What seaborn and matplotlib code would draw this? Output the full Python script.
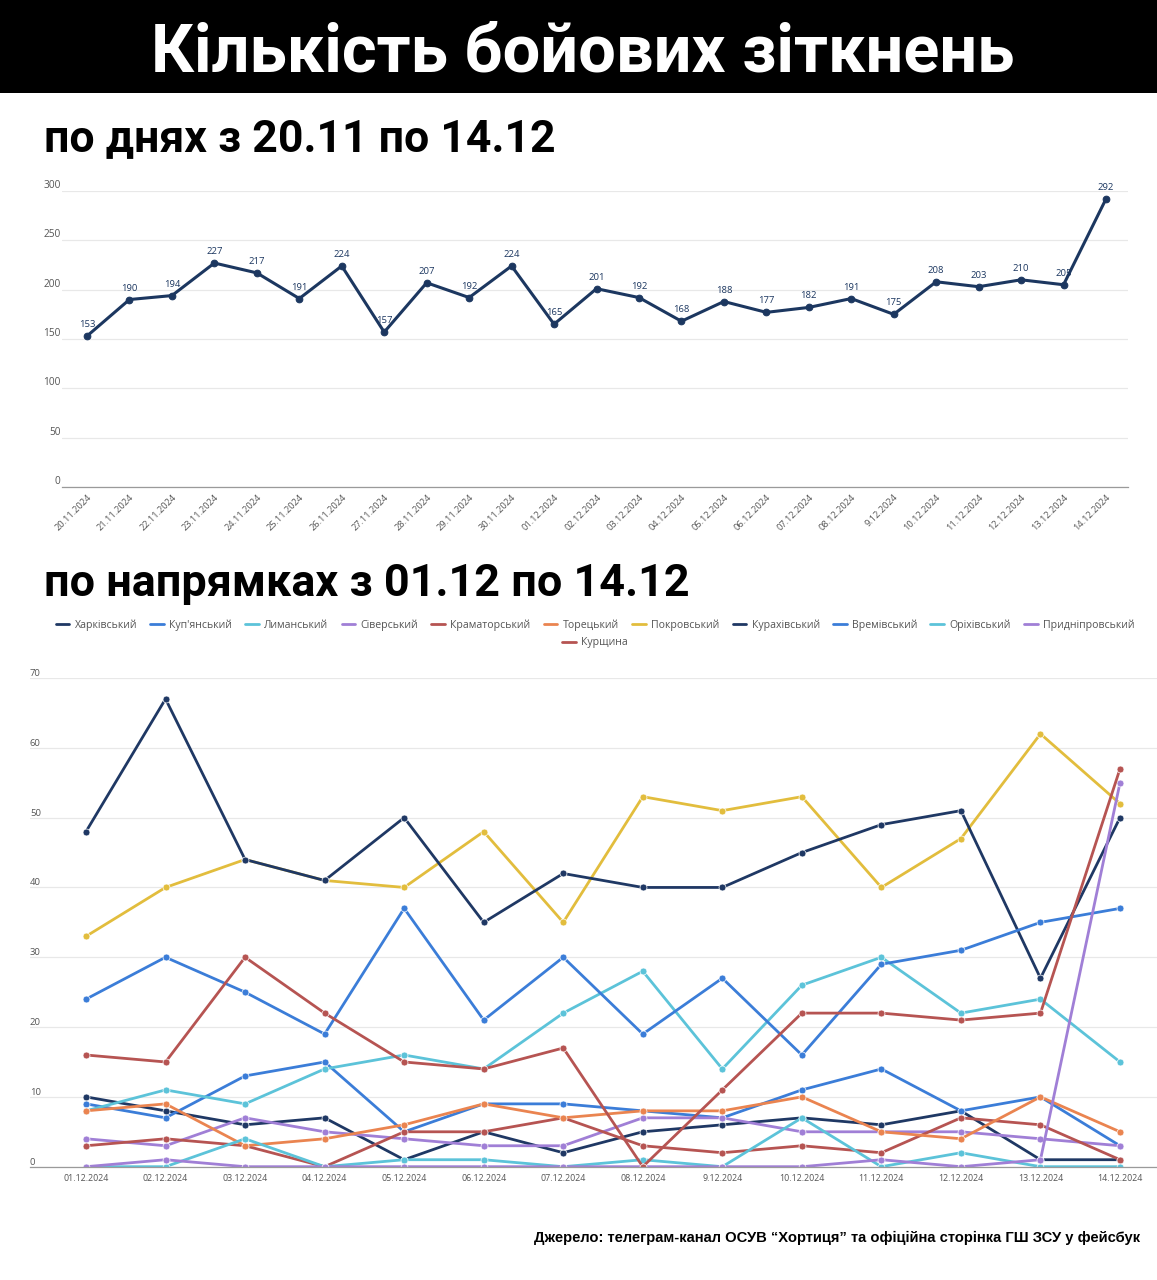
import pandas as pd
import seaborn as sns
import matplotlib.pyplot as plt
from matplotlib import font_manager
from matplotlib.lines import Line2D
from matplotlib.patches import Rectangle

# ---- data: daily totals ----
daily_dates = ["20.11.2024", "21.11.2024", "22.11.2024", "23.11.2024", "24.11.2024",
               "25.11.2024", "26.11.2024", "27.11.2024", "28.11.2024", "29.11.2024",
               "30.11.2024", "01.12.2024", "02.12.2024", "03.12.2024", "04.12.2024",
               "05.12.2024", "06.12.2024", "07.12.2024", "08.12.2024", "9.12.2024",
               "10.12.2024", "11.12.2024", "12.12.2024", "13.12.2024", "14.12.2024"]
daily_values = [153, 190, 194, 227, 217, 191, 224, 157, 207, 192, 224, 165, 201,
                192, 168, 188, 177, 182, 191, 175, 208, 203, 210, 205, 292]

# ---- data: by direction ----
dir_dates = ["01.12.2024", "02.12.2024", "03.12.2024", "04.12.2024", "05.12.2024",
             "06.12.2024", "07.12.2024", "08.12.2024", "9.12.2024", "10.12.2024",
             "11.12.2024", "12.12.2024", "13.12.2024", "14.12.2024"]
kharkivskyi = [10, 8, 6, 7, 1, 5, 2, 5, 6, 7, 6, 8, 1, 1]
kupianskyi = [9, 7, 13, 15, 5, 9, 9, 8, 7, 11, 14, 8, 10, 3]
lymanskyi = [8, 11, 9, 14, 16, 14, 22, 28, 14, 26, 30, 22, 24, 15]
siverskyi = [4, 3, 7, 5, 4, 3, 3, 7, 7, 5, 5, 5, 4, 3]
kramatorskyi = [3, 4, 3, 0, 5, 5, 7, 3, 2, 3, 2, 7, 6, 1]
toretskyi = [8, 9, 3, 4, 6, 9, 7, 8, 8, 10, 5, 4, 10, 5]
pokrovskyi = [33, 40, 44, 41, 40, 48, 35, 53, 51, 53, 40, 47, 62, 52]
kurakhivskyi = [48, 67, 44, 41, 50, 35, 42, 40, 40, 45, 49, 51, 27, 50]
vremivskyi = [24, 30, 25, 19, 37, 21, 30, 19, 27, 16, 29, 31, 35, 37]
orikhivskyi = [0, 0, 4, 0, 1, 1, 0, 1, 0, 7, 0, 2, 0, 0]
prydniprovskyi = [0, 1, 0, 0, 0, 0, 0, 0, 0, 0, 1, 0, 1, 55]
kurshchyna = [16, 15, 30, 22, 15, 14, 17, 0, 11, 22, 22, 21, 22, 57]

direction_names = ["Харківський", "Куп'янський", "Лиманський", "Сіверський",
                   "Краматорський", "Торецький", "Покровський", "Курахівський",
                   "Времівський", "Оріхівський", "Придніпровський", "Курщина"]
direction_values = [kharkivskyi, kupianskyi, lymanskyi, siverskyi, kramatorskyi,
                    toretskyi, pokrovskyi, kurakhivskyi, vremivskyi, orikhivskyi,
                    prydniprovskyi, kurshchyna]

NAVY = "#1c3760"
base_colors = ["#1f3864", "#3b7dd8", "#5cc3d9", "#a07fd6", "#b65452", "#ea8450", "#e2bd3d"]
palette = [base_colors[i % 7] for i in range(len(direction_names))]

sns.set_theme(style="white")
avail = {f.name for f in font_manager.fontManager.ttflist}
cond = next((n for n in ["Liberation Sans Narrow", "DejaVu Sans Condensed", "Roboto"] if n in avail), "DejaVu Sans")
light = next((n for n in ["Open Sans", "Roboto", "Lato"] if n in avail), "DejaVu Sans")
plt.rcParams["font.family"] = [light, "DejaVu Sans"]

W, H = 1157, 1280
fig = plt.figure(figsize=(W / 100, H / 100), dpi=100)
fig.patch.set_facecolor("white")

def fit_width(t, width_px):
    fig.canvas.draw()
    w = t.get_window_extent(fig.canvas.get_renderer()).width
    t.set_fontsize(t.get_fontsize() * width_px / w)

# header band
fig.patches.append(Rectangle((0, 1 - 93 / H), 1, 93 / H, transform=fig.transFigure,
                             facecolor="black", edgecolor="none", zorder=0))
title = fig.text(583 / W, 1 - 53 / H, "Кількість бойових зіткнень", ha="center", va="center",
                 color="white", fontsize=40, fontweight="bold", family=[cond, "DejaVu Sans"])
sub1 = fig.text(44 / W, 1 - 139 / H, "по днях з 20.11 по 14.12", ha="left", va="center",
                color="black", fontsize=26, fontweight="bold", family=[cond, "DejaVu Sans"])
sub2 = fig.text(44 / W, 1 - 584 / H, "по напрямках з 01.12 по 14.12", ha="left", va="center",
                color="black", fontsize=26, fontweight="bold", family=[cond, "DejaVu Sans"])
src = fig.text(1140 / W, 1 - 1238 / H,
               "Джерело: телеграм-канал ОСУВ \u201cХортиця\u201d та офіційна сторінка ГШ ЗСУ у фейсбук",
               ha="right", va="center", color="black", fontsize=10, fontweight="bold",
               family=["Liberation Sans", "DejaVu Sans"])

# ---- top chart ----
ax1 = fig.add_axes([62 / W, 1 - 487 / H, (1128 - 62) / W, (487 - 191) / H])
daily_df = pd.DataFrame({"i": range(len(daily_dates)), "v": daily_values})
sns.lineplot(data=daily_df, x="i", y="v", ax=ax1, color=NAVY, lw=2.2, marker="o",
             markersize=4.8, markeredgecolor=NAVY, zorder=3)
for i, v in zip(daily_df["i"], daily_df["v"]):
    ax1.annotate(str(v), (i, v), xytext=(0, 5), textcoords="offset points", ha="center",
                 va="bottom", fontsize=6.8, color=NAVY, annotation_clip=False)
ax1.set_xlim(-0.589, 24.518)
ax1.set_ylim(0, 300)
ax1.set_yticks(range(0, 301, 50))
ax1.set_xticks(range(len(daily_dates)))
ax1.set_xticklabels(daily_dates, rotation=45, ha="right", rotation_mode="anchor",
                    fontsize=6.7, color="#555555")
ax1.grid(axis="y", color="#e8e8e8", lw=0.9)
ax1.tick_params(axis="x", length=0, pad=4)
ax1.tick_params(axis="y", length=0, pad=1, labelsize=7.3, labelcolor="#555555")
for lab in ax1.get_yticklabels():
    lab.set_va("bottom")
for s in ["top", "right", "left"]:
    ax1.spines[s].set_visible(False)
ax1.spines["bottom"].set_color("#9a9a9a")
ax1.spines["bottom"].set_linewidth(0.9)
ax1.set_xlabel("")
ax1.set_ylabel("")

# ---- bottom chart ----
ax2 = fig.add_axes([30 / W, 1 - 1166.7 / H, (W - 30) / W, (1166.7 - 678) / H])
rows = []
for name, vals in zip(direction_names, direction_values):
    for i, v in enumerate(vals):
        rows.append({"i": i, "v": v, "direction": name})
dir_df = pd.DataFrame(rows)
sns.lineplot(data=dir_df, x="i", y="v", hue="direction", hue_order=direction_names,
             palette=palette, ax=ax2, lw=2.0, marker="o", markersize=5,
             markeredgecolor="white", markeredgewidth=0.5, legend=False, sort=False)
ax2.set_xlim(-0.704, 13.465)
ax2.set_ylim(0, 70)
ax2.set_yticks(range(0, 71, 10))
ax2.set_xticks(range(len(dir_dates)))
ax2.set_xticklabels(dir_dates, fontsize=6.4, color="#555555")
ax2.grid(axis="y", color="#e8e8e8", lw=0.9)
ax2.tick_params(axis="x", length=0, pad=5)
ax2.tick_params(axis="y", length=0, pad=0, labelsize=6.8, labelcolor="#555555")
for lab in ax2.get_yticklabels():
    lab.set_va("bottom")
    lab.set_ha("left")
for s in ["top", "right", "left"]:
    ax2.spines[s].set_visible(False)
ax2.spines["bottom"].set_color("#9a9a9a")
ax2.spines["bottom"].set_linewidth(0.9)
ax2.set_xlabel("")
ax2.set_ylabel("")

handles = [Line2D([0], [0], color=c, lw=2) for c in palette]
leg_kw = dict(loc="center", frameon=False, fontsize=7.6, handlelength=1.3,
              handletextpad=0.5, columnspacing=1.25, labelcolor="#555555")
fig.legend(handles[:11], direction_names[:11], bbox_to_anchor=(595 / W, 1 - 625 / H),
           ncol=11, **leg_kw)
fig.legend(handles[11:], direction_names[11:], bbox_to_anchor=(595 / W, 1 - 643 / H),
           ncol=1, **leg_kw)

fit_width(title, 863)
fit_width(sub1, 512)
fit_width(sub2, 646)
fit_width(src, 607)

fig.savefig("out.png", dpi=100)
